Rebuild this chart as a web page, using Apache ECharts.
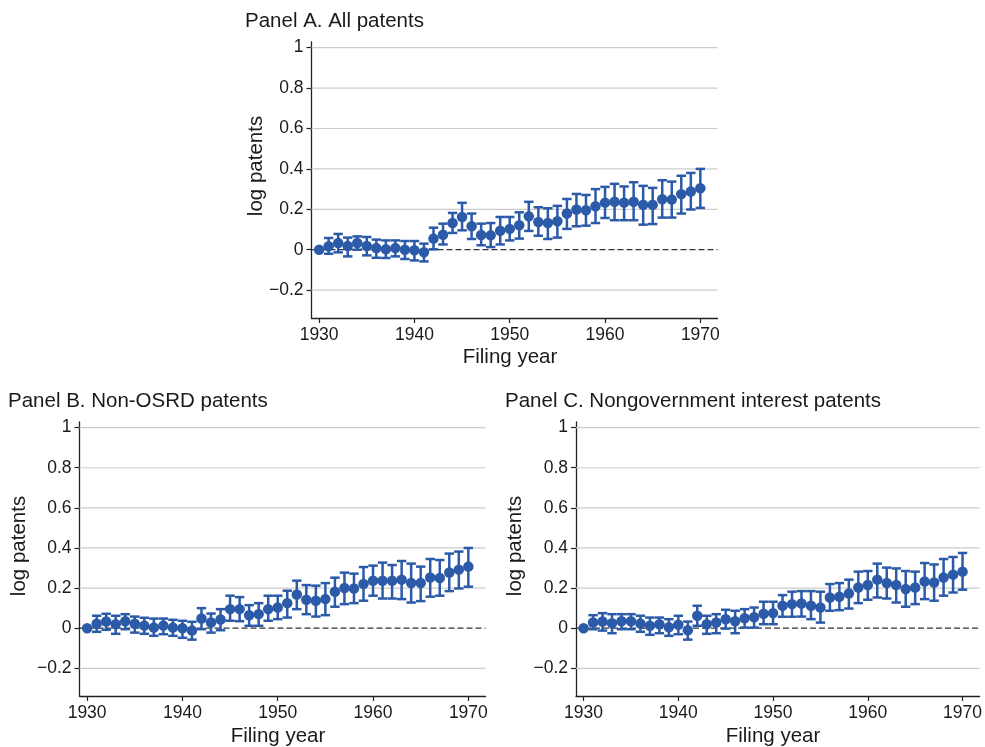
<!DOCTYPE html>
<html>
<head>
<meta charset="utf-8">
<script src="https://cdn.jsdelivr.net/npm/echarts@6/dist/echarts.min.js"></script>
<style>
html,body{margin:0;padding:0;background:#fff;}
#chart{width:985px;height:747px;}
</style>
</head>
<body>
<div id="chart"></div>
<script>
// ---- data ----
var years = [];
for (var yr = 1930; yr <= 1970; yr++) years.push(yr);

var xTicks = [1930, 1940, 1950, 1960, 1970];
var yTicks = [-0.2, 0, 0.2, 0.4, 0.6, 0.8, 1];
var gridValues = [-0.2, 0.2, 0.4, 0.6, 0.8, 1];

var panelTitles = ['Panel A. All patents', 'Panel B. Non-OSRD patents', 'Panel C. Nongovernment interest patents'];
var xAxisTitle = 'Filing year';
var yAxisTitle = 'log patents';

var estA = [0,0.017,0.033,0.018,0.033,0.018,0.008,0.002,0.008,0.0,-0.003,-0.013,0.055,0.074,0.132,0.162,0.116,0.073,0.071,0.094,0.103,0.121,0.165,0.137,0.132,0.141,0.179,0.199,0.195,0.215,0.233,0.237,0.233,0.237,0.222,0.222,0.25,0.248,0.275,0.288,0.304];
var hiA = [null,0.058,0.078,0.06,0.066,0.063,0.05,0.046,0.046,0.043,0.043,0.03,0.109,0.129,0.182,0.232,0.179,0.129,0.132,0.162,0.162,0.185,0.237,0.21,0.205,0.217,0.251,0.276,0.271,0.30,0.311,0.326,0.313,0.334,0.316,0.306,0.344,0.337,0.366,0.38,0.40];
var loA = [null,-0.02,-0.013,-0.033,0.0,-0.028,-0.04,-0.041,-0.033,-0.046,-0.053,-0.058,0.002,0.026,0.083,0.096,0.053,0.022,0.013,0.026,0.046,0.055,0.093,0.069,0.053,0.06,0.103,0.116,0.119,0.132,0.157,0.146,0.146,0.146,0.124,0.127,0.159,0.159,0.179,0.199,0.207];

var estB = [0,0.022,0.033,0.02,0.035,0.022,0.013,0.003,0.013,0.003,0.0,-0.012,0.048,0.028,0.043,0.095,0.095,0.065,0.07,0.095,0.103,0.125,0.168,0.142,0.137,0.145,0.182,0.2,0.198,0.22,0.237,0.237,0.237,0.242,0.225,0.225,0.253,0.25,0.278,0.292,0.307];
var hiB = [null,0.062,0.072,0.062,0.07,0.058,0.052,0.048,0.048,0.042,0.037,0.032,0.1,0.073,0.095,0.162,0.155,0.115,0.125,0.162,0.162,0.187,0.237,0.215,0.212,0.225,0.252,0.277,0.272,0.305,0.312,0.327,0.315,0.335,0.322,0.307,0.345,0.34,0.372,0.382,0.4];
var loB = [null,-0.018,-0.008,-0.028,-0.005,-0.022,-0.028,-0.038,-0.03,-0.038,-0.048,-0.057,-0.005,-0.022,-0.01,0.037,0.035,0.012,0.012,0.037,0.045,0.053,0.095,0.07,0.058,0.065,0.107,0.12,0.125,0.137,0.162,0.148,0.148,0.145,0.128,0.135,0.157,0.162,0.185,0.198,0.207];

var estC = [0,0.028,0.033,0.025,0.035,0.035,0.023,0.012,0.02,0.005,0.017,-0.01,0.062,0.02,0.028,0.045,0.035,0.05,0.055,0.072,0.075,0.112,0.12,0.123,0.112,0.103,0.153,0.157,0.173,0.203,0.215,0.242,0.225,0.215,0.195,0.203,0.233,0.228,0.253,0.267,0.282];
var hiC = [null,0.065,0.075,0.07,0.07,0.07,0.062,0.053,0.053,0.045,0.062,0.033,0.112,0.062,0.07,0.092,0.087,0.095,0.103,0.132,0.132,0.165,0.182,0.185,0.185,0.182,0.22,0.225,0.242,0.282,0.285,0.322,0.302,0.298,0.285,0.282,0.325,0.318,0.345,0.355,0.375];
var loC = [null,-0.005,-0.012,-0.025,-0.005,-0.005,-0.018,-0.033,-0.025,-0.038,-0.03,-0.057,0.012,-0.028,-0.025,-0.002,-0.025,0.003,0.003,0.02,0.02,0.057,0.057,0.058,0.045,0.028,0.087,0.09,0.098,0.125,0.142,0.153,0.148,0.128,0.107,0.12,0.145,0.137,0.162,0.178,0.192];

// ---- layout ----
var FONT = 'Liberation Sans, Arial, Helvetica, sans-serif';
var TXT = '#1a1a1a';
var BLUE = '#2b5aa8';
var panels = [
  {est: estA, lo: loA, hi: hiA, grid: {left: 311.5, top: 42, width: 406, height: 276},
   title: [245, 21], xName: [510, 357], yName: [256, 166]},
  {est: estB, lo: loB, hi: hiB, grid: {left: 79.5, top: 422, width: 406, height: 274},
   title: [8, 401], xName: [278, 736], yName: [19, 546]},
  {est: estC, lo: loC, hi: hiC, grid: {left: 576, top: 422, width: 406, height: 274},
   title: [505, 401], xName: [773, 736], yName: [515, 546]}
];

function yFmt(v) {
  if (Math.abs(v) < 1e-9) return '0';
  var s = String(Math.round(Math.abs(v) * 10) / 10);
  return v < 0 ? '\u2212' + s : s;
}
function xFmt(v) { return String(Math.round(v)); }

var grids = [], xAxes = [], yAxes = [], series = [], graphics = [];
panels.forEach(function (p, i) {
  grids.push(p.grid);
  xAxes.push({
    type: 'value', gridIndex: i, min: 1929.2, max: 1971.8,
    axisLine: {show: true, onZero: false, lineStyle: {color: '#222', width: 1.3}},
    axisTick: {show: true, customValues: xTicks, length: 5, lineStyle: {color: '#222', width: 1.2}},
    axisLabel: {customValues: xTicks, fontSize: 17.5, fontFamily: FONT, color: TXT, margin: 8, formatter: xFmt},
    splitLine: {show: false}
  });
  yAxes.push({
    type: 'value', gridIndex: i, min: -0.338, max: 1.028,
    axisLine: {show: true, onZero: false, lineStyle: {color: '#222', width: 1.3}},
    axisTick: {show: true, customValues: yTicks, length: 5, lineStyle: {color: '#222', width: 1.2}},
    axisLabel: {customValues: yTicks, fontSize: 17.5, fontFamily: FONT, color: TXT, margin: 8, formatter: yFmt},
    splitLine: {show: false}
  });
  // grid lines
  series.push({
    type: 'custom', xAxisIndex: i, yAxisIndex: i, z: 1, silent: true,
    data: gridValues.map(function (v) { return [1950, v]; }),
    renderItem: function (params, api) {
      var cs = params.coordSys;
      var y = api.coord([1950, api.value(1)])[1];
      return {type: 'line', shape: {x1: cs.x, y1: y, x2: cs.x + cs.width, y2: y},
              style: {stroke: '#cccccc', lineWidth: 1.2}};
    }
  });
  // zero dashed line
  series.push({
    type: 'custom', xAxisIndex: i, yAxisIndex: i, z: 2, silent: true,
    data: [[1950, 0]],
    renderItem: function (params, api) {
      var cs = params.coordSys;
      var y = api.coord([1950, api.value(1)])[1];
      return {type: 'line', shape: {x1: cs.x, y1: y, x2: cs.x + cs.width, y2: y},
              style: {stroke: '#333333', lineWidth: 1.3, lineDash: [6, 3]}};
    }
  });
  // error bars
  var ebData = [];
  years.forEach(function (yv, k) {
    if (p.lo[k] !== null && p.hi[k] !== null) ebData.push([yv, p.lo[k], p.hi[k]]);
  });
  series.push({
    type: 'custom', xAxisIndex: i, yAxisIndex: i, z: 3, silent: true,
    data: ebData,
    renderItem: function (params, api) {
      var x = api.value(0);
      var a = api.coord([x, api.value(1)]);
      var b = api.coord([x, api.value(2)]);
      var hw = 4.7;
      var st = {stroke: BLUE, lineWidth: 2.5};
      return {type: 'group', children: [
        {type: 'line', shape: {x1: a[0], y1: a[1], x2: b[0], y2: b[1]}, style: st},
        {type: 'line', shape: {x1: a[0] - hw, y1: a[1], x2: a[0] + hw, y2: a[1]}, style: st},
        {type: 'line', shape: {x1: b[0] - hw, y1: b[1], x2: b[0] + hw, y2: b[1]}, style: st}
      ]};
    }
  });
  // point estimates
  series.push({
    type: 'scatter', xAxisIndex: i, yAxisIndex: i, z: 4, silent: true,
    symbol: 'circle', symbolSize: 10.5,
    itemStyle: {color: BLUE, opacity: 1},
    data: years.map(function (yv, k) { return [yv, p.est[k]]; })
  });
  // texts
  graphics.push({type: 'text', x: p.title[0], y: p.title[1],
    style: {text: panelTitles[i], font: '20.5px ' + FONT, fill: TXT, textAlign: 'left', textVerticalAlign: 'middle'}});
  graphics.push({type: 'text', x: p.xName[0], y: p.xName[1],
    style: {text: xAxisTitle, font: '20.5px ' + FONT, fill: TXT, textAlign: 'center', textVerticalAlign: 'middle'}});
  graphics.push({type: 'text', x: p.yName[0], y: p.yName[1], rotation: Math.PI / 2,
    style: {text: yAxisTitle, font: '20.5px ' + FONT, fill: TXT, textAlign: 'center', textVerticalAlign: 'middle'}});
});

var chart = echarts.init(document.getElementById('chart'), null, {renderer: 'canvas'});
chart.setOption({
  backgroundColor: '#ffffff',
  animation: false,
  grid: grids,
  xAxis: xAxes,
  yAxis: yAxes,
  series: series,
  graphic: graphics
});
</script>
</body>
</html>
